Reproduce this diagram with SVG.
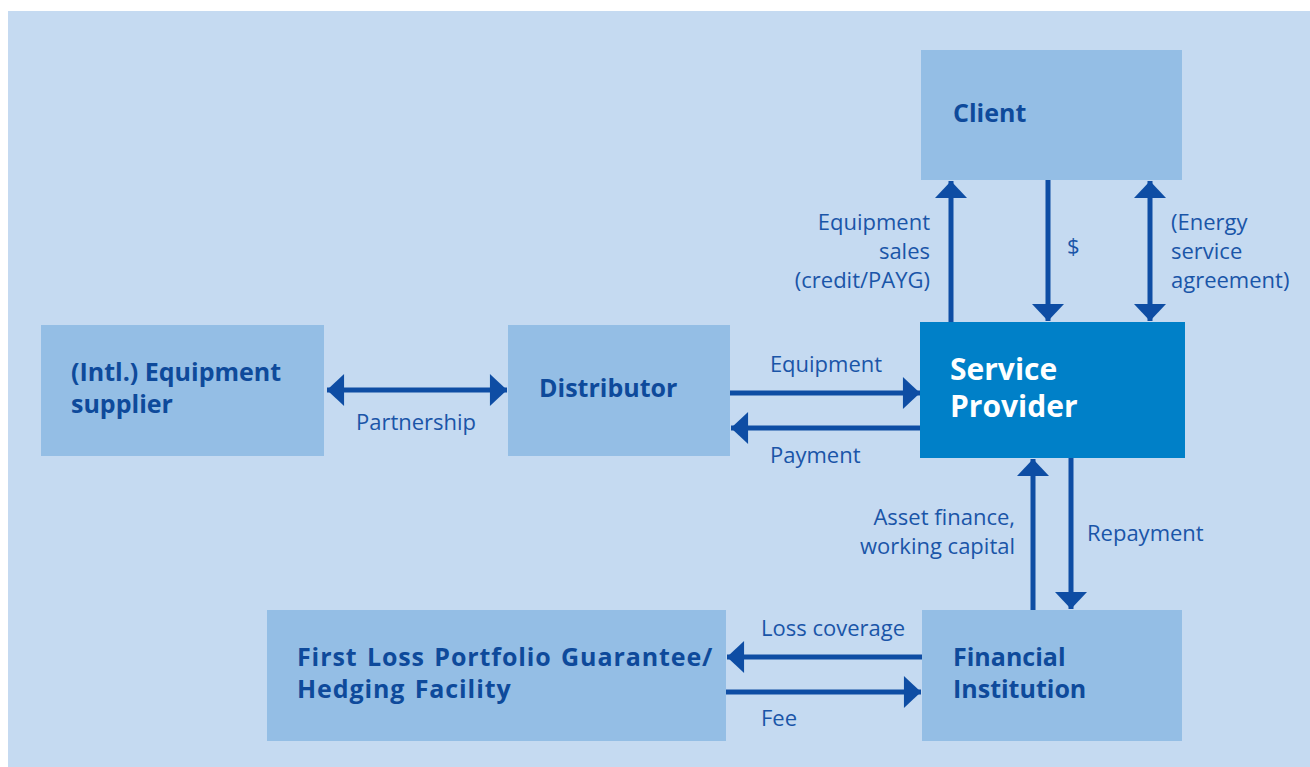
<svg xmlns="http://www.w3.org/2000/svg" width="1310" height="767" viewBox="0 0 1310 767">
<defs>
<style>
.box{fill:#94BEE5}
.dark{fill:#0080C8}
.bt{font-family:"Open Sans","Liberation Sans",sans-serif;font-weight:bold;font-size:25px;fill:#0E4A9B}
.wide{letter-spacing:0.9px;word-spacing:2px}
.st{font-family:"Open Sans","Liberation Sans",sans-serif;font-weight:bold;font-size:30px;fill:#FFFFFF}
.lb{font-family:"Open Sans","Liberation Sans",sans-serif;font-size:22px;fill:#1A55A8}
.ar{stroke:#0E4DA4;stroke-width:5;fill:none}
</style>
<marker id="ah" markerUnits="userSpaceOnUse" markerWidth="32" markerHeight="32" viewBox="0 0 16 30" refX="16" refY="15" orient="auto-start-reverse">
<path d="M0,0 L16,15 L0,30 Z" fill="#0E4DA4"/>
</marker>
</defs>
<rect x="8" y="11" width="1302" height="756" fill="#C5DAF1"/>
<g id="client"><rect class="box" x="921" y="50" width="261" height="130"/><text class="bt" x="953" y="122">Client</text></g>
<g id="service-provider"><rect class="dark" x="920" y="322" width="265" height="136"/><text class="st" x="950" y="380">Service</text><text class="st" x="950" y="417">Provider</text></g>
<g id="equipment-supplier"><rect class="box" x="41" y="325" width="283" height="131"/><text class="bt" x="71" y="381">(Intl.) Equipment</text><text class="bt" x="71" y="413">supplier</text></g>
<g id="distributor"><rect class="box" x="508" y="325" width="222" height="131"/><text class="bt" x="539" y="397">Distributor</text></g>
<g id="first-loss"><rect class="box" x="267" y="610" width="459" height="131"/><text class="bt wide" x="297" y="666">First Loss Portfolio Guarantee/</text><text class="bt wide" x="297" y="698">Hedging Facility</text></g>
<g id="financial-institution"><rect class="box" x="922" y="610" width="260" height="131"/><text class="bt" x="953" y="666">Financial</text><text class="bt" x="953" y="698">Institution</text></g>
<g id="connectors">
<line class="ar" x1="951" y1="322" x2="951" y2="181" marker-end="url(#ah)"/>
<line class="ar" x1="1048" y1="180" x2="1048" y2="321" marker-end="url(#ah)"/>
<line class="ar" x1="1150" y1="181" x2="1150" y2="321" marker-start="url(#ah)" marker-end="url(#ah)"/>
<line class="ar" x1="327" y1="390" x2="507" y2="390" marker-start="url(#ah)" marker-end="url(#ah)"/>
<line class="ar" x1="730" y1="393" x2="920" y2="393" marker-end="url(#ah)"/>
<line class="ar" x1="920" y1="428" x2="731" y2="428" marker-end="url(#ah)"/>
<line class="ar" x1="1033" y1="610" x2="1033" y2="459" marker-end="url(#ah)"/>
<line class="ar" x1="1071" y1="458" x2="1071" y2="609" marker-end="url(#ah)"/>
<line class="ar" x1="922" y1="657" x2="727" y2="657" marker-end="url(#ah)"/>
<line class="ar" x1="726" y1="692" x2="921" y2="692" marker-end="url(#ah)"/>
<text class="lb" x="930" y="230" text-anchor="end">Equipment</text>
<text class="lb" x="930" y="259" text-anchor="end">sales</text>
<text class="lb" x="930" y="288" text-anchor="end">(credit/PAYG)</text>
<text class="lb" x="1067" y="254">$</text>
<text class="lb" x="1171" y="230">(Energy</text>
<text class="lb" x="1171" y="259">service</text>
<text class="lb" x="1171" y="288">agreement)</text>
<text class="lb" x="826" y="372" text-anchor="middle">Equipment</text>
<text class="lb" x="770" y="463">Payment</text>
<text class="lb" x="416" y="430" text-anchor="middle">Partnership</text>
<text class="lb" x="1015" y="525" text-anchor="end">Asset finance,</text>
<text class="lb" x="1015" y="554" text-anchor="end">working capital</text>
<text class="lb" x="1087" y="541">Repayment</text>
<text class="lb" x="761" y="636">Loss coverage</text>
<text class="lb" x="761" y="726">Fee</text>
</g>
</svg>
